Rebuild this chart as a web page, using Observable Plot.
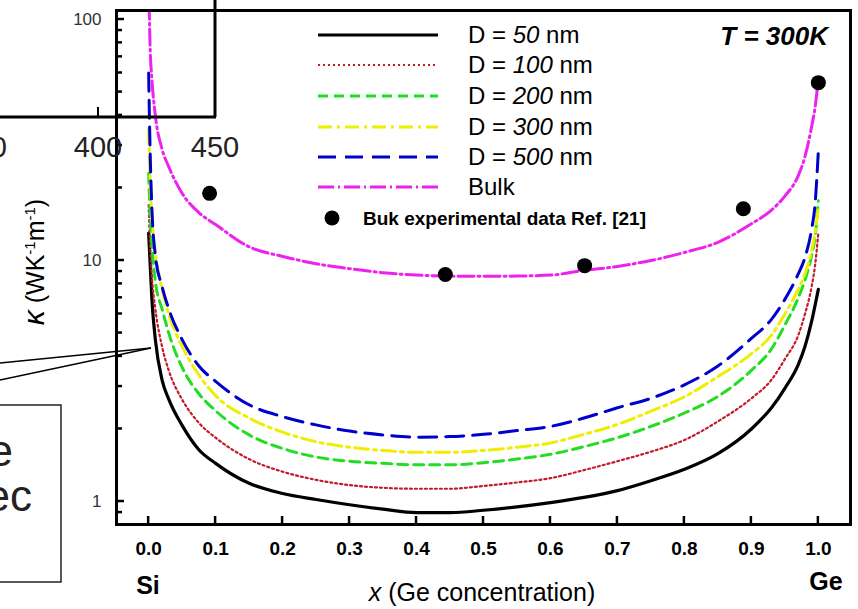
<!DOCTYPE html>
<html><head><meta charset="utf-8">
<script src="https://cdn.jsdelivr.net/npm/d3@7"></script>
<script src="https://cdn.jsdelivr.net/npm/@observablehq/plot@0.6"></script>
<style>body{margin:0;background:#fff} svg{display:block}</style>
</head><body><div id="chart"></div>
<script>
// Ge concentration grid
const xGrid = [0, 0.002, 0.005, 0.01, 0.02, 0.03, 0.05, 0.075, 0.1, 0.15, 0.2, 0.25, 0.3, 0.35, 0.4, 0.45, 0.5, 0.55, 0.6, 0.65, 0.7, 0.75, 0.8, 0.85, 0.9, 0.93, 0.95, 0.97, 0.98, 0.99, 0.995, 1.0];
// thermal conductivity (W/K/m)
const kD50  = [13, 10, 6.8, 4.7, 3.2, 2.66, 2.07, 1.64, 1.44, 1.19, 1.08, 1.02, 0.97, 0.93, 0.90, 0.90, 0.92, 0.95, 0.99, 1.04, 1.11, 1.22, 1.36, 1.58, 2.0, 2.45, 2.95, 3.7, 4.4, 5.6, 6.5, 7.6];
const kD100 = [17, 12, 8.5, 6.3, 4.4, 3.5, 2.65, 2.12, 1.84, 1.5, 1.33, 1.23, 1.17, 1.14, 1.13, 1.13, 1.16, 1.2, 1.25, 1.35, 1.47, 1.61, 1.8, 2.15, 2.68, 3.2, 3.9, 4.9, 6.0, 7.8, 9.5, 13];
const kD200 = [23, 16, 11.5, 8.2, 6.3, 5.0, 3.6, 2.8, 2.38, 1.89, 1.66, 1.53, 1.47, 1.44, 1.42, 1.42, 1.45, 1.5, 1.57, 1.69, 1.84, 2.05, 2.33, 2.73, 3.5, 4.3, 5.4, 7.0, 8.3, 10.5, 12.5, 17.7];
const kD300 = [35, 22, 15, 10.8, 7.6, 6.0, 4.4, 3.35, 2.75, 2.22, 1.94, 1.77, 1.68, 1.63, 1.6, 1.6, 1.63, 1.68, 1.75, 1.9, 2.09, 2.37, 2.72, 3.3, 4.1, 4.9, 6.0, 7.6, 8.8, 11, 13, 16.6];
const kD500 = [60, 30, 16, 10.5, 7.8, 6.3, 4.7, 3.65, 3.15, 2.52, 2.25, 2.08, 1.96, 1.89, 1.85, 1.86, 1.9, 1.97, 2.05, 2.22, 2.45, 2.68, 3.05, 3.65, 4.75, 5.7, 6.9, 8.8, 10.3, 13.5, 17, 28.5];
const kBulk = [150, 80, 56, 40, 29, 24.5, 19, 15.8, 14.1, 11.4, 10.4, 9.7, 9.25, 8.9, 8.7, 8.62, 8.6, 8.62, 8.7, 9.1, 9.45, 10.0, 10.8, 11.9, 14.2, 16.2, 18.5, 22.5, 27, 36, 43, 57];
// experimental bulk data
const expX = [0.091, 0.443, 0.651, 0.888, 1.0];
const expK = [19.0, 8.75, 9.52, 16.4, 54.7];
// labels & ticks
const seriesNames = ["D = 50 nm", "D = 100 nm", "D = 200 nm", "D = 300 nm", "D = 500 nm", "Bulk"];
const seriesNums = ["50", "100", "200", "300", "500", null];
const expLabel = "Buk experimental data Ref. [21]";
const xTicks = [0, 0.1, 0.2, 0.3, 0.4, 0.5, 0.6, 0.7, 0.8, 0.9, 1.0];
const yTicks = [1, 10, 100];
const yMinor = [0.9, 2, 3, 4, 5, 6, 7, 8, 9, 20, 30, 40, 50, 60, 70, 80, 90];
const insetTickLabels = ["0", "400", "450"];
const calloutWords = ["e", "ec"];

const seriesValues = [kD50, kD100, kD200, kD300, kD500, kBulk];
const styles = [
  {color: "#000000", dash: null, width: 3.2},
  {color: "#c01c2a", dash: "2,3", width: 2.2},
  {color: "#22dd22", dash: "10,6", width: 3},
  {color: "#eeee00", dash: "14,5,3,5", width: 3},
  {color: "#0000cc", dash: "18,9", width: 3},
  {color: "#ee22ee", dash: "16,4,2,4", width: 3}
];
const exp = expX.map((x, i) => ({x, k: expK[i]}));
const FONT = "'Liberation Sans', Arial, sans-serif";

const plot = Plot.plot({
  width: 858, height: 609,
  marginLeft: 116, marginRight: 8, marginTop: 10, marginBottom: 85,
  x: {domain: [-0.048, 1.048]},
  y: {type: "log", domain: [0.803, 109]},
  style: {fontFamily: FONT, color: "#000", background: "#fff", overflow: "visible"},
  marks: [
    ...seriesValues.map((vals, si) => Plot.line(xGrid.map((x, i) => ({x, k: vals[i]})), {
      x: "x", y: "k", stroke: styles[si].color, strokeWidth: styles[si].width,
      strokeDasharray: styles[si].dash, curve: "monotone-x", clip: "frame"
    })),
    Plot.dot(exp, {x: "x", y: "k", r: 7.5, fill: "#000"}),
    Plot.frame({strokeWidth: 3}),
    Plot.axisX({ticks: xTicks, tickFormat: d3.format(".1f"), tickSize: 0, tickPadding: 17, fontSize: 19, fontWeight: "bold", label: null}),
    Plot.axisY({ticks: yTicks, tickFormat: d => String(d), tickSize: 0, tickPadding: 15, fontSize: 17, fill: "#333", label: null})
  ]
});
document.getElementById("chart").appendChild(plot);

const svg = d3.select(plot);
const sx = plot.scale("x"), sy = plot.scale("y");
const L = 116, B = 524;
const g = svg.append("g").attr("stroke", "#000");
yTicks.forEach(v => g.append("line").attr("x1", L).attr("x2", L + 8).attr("y1", sy.apply(v)).attr("y2", sy.apply(v)).attr("stroke-width", 2.5));
yMinor.forEach(v => g.append("line").attr("x1", L).attr("x2", L + 6).attr("y1", sy.apply(v)).attr("y2", sy.apply(v)).attr("stroke-width", 2.5));
xTicks.forEach(v => g.append("line").attr("x1", sx.apply(v)).attr("x2", sx.apply(v)).attr("y1", B).attr("y2", B - 8).attr("stroke-width", 2.5));

// Legend
const leg = svg.append("g").attr("font-family", FONT).attr("text-anchor", "start");
const rowY = [35, 65, 96, 127, 157, 187];
seriesNames.forEach((name, i) => {
  const s = styles[i];
  leg.append("line").attr("x1", 318).attr("x2", 438).attr("y1", rowY[i]).attr("y2", rowY[i])
    .attr("stroke", s.color).attr("stroke-width", s.width).attr("stroke-dasharray", s.dash);
  const t = leg.append("text").attr("x", 468).attr("y", rowY[i] + 8).attr("font-size", 24).attr("text-anchor", "start");
  if (seriesNums[i]) {
    t.append("tspan").text("D = ");
    t.append("tspan").attr("font-style", "italic").text(seriesNums[i]);
    t.append("tspan").text(" nm");
  } else t.text(name);
});
leg.append("circle").attr("cx", 332).attr("cy", 218).attr("r", 7.5).attr("fill", "#000");
leg.append("text").attr("x", 363).attr("y", 225).attr("font-size", 19).attr("font-weight", "bold").attr("text-anchor", "start").text(expLabel);

// T = 300K
svg.append("text").attr("x", 828).attr("y", 45).attr("text-anchor", "end").attr("font-family", FONT)
  .attr("font-size", 26).attr("font-weight", "bold").attr("font-style", "italic").text("T = 300K");

// axis titles
const at = svg.append("g").attr("font-family", FONT);
at.append("text").attr("x", 148).attr("y", 594).attr("text-anchor", "middle").attr("font-size", 25).attr("font-weight", "bold").text("Si");
at.append("text").attr("x", 826).attr("y", 590).attr("text-anchor", "middle").attr("font-size", 25).attr("font-weight", "bold").text("Ge");
const xl = at.append("text").attr("x", 482).attr("y", 601).attr("text-anchor", "middle").attr("font-size", 25);
xl.append("tspan").attr("font-style", "italic").text("x");
xl.append("tspan").text(" (Ge concentration)");
const yl = at.append("text").attr("transform", "translate(44,262) rotate(-90)").attr("text-anchor", "middle").attr("font-size", 25);
yl.append("tspan").attr("font-style", "italic").attr("font-size", 30).text("κ");
yl.append("tspan").text(" (WK");
yl.append("tspan").attr("dy", -9).attr("font-size", 15).text("-1");
yl.append("tspan").attr("dy", 9).text("m");
yl.append("tspan").attr("dy", -9).attr("font-size", 15).text("-1");
yl.append("tspan").attr("dy", 9).text(")");

// leftover pieces of a neighbouring figure
const art = svg.append("g").attr("font-family", FONT);
art.append("line").attr("x1", 0).attr("x2", 216).attr("y1", 117).attr("y2", 117).attr("stroke", "#000").attr("stroke-width", 3);
art.append("line").attr("x1", 215).attr("x2", 215).attr("y1", 0).attr("y2", 117).attr("stroke", "#000").attr("stroke-width", 3);
art.append("line").attr("x1", 98).attr("x2", 98).attr("y1", 107).attr("y2", 117).attr("stroke", "#000").attr("stroke-width", 2);
art.append("text").attr("x", 7).attr("y", 157).attr("text-anchor", "end").attr("font-size", 29).attr("fill", "#222").text(insetTickLabels[0]);
art.append("text").attr("x", 98).attr("y", 157).attr("text-anchor", "middle").attr("font-size", 29).attr("fill", "#222").text(insetTickLabels[1]);
art.append("text").attr("x", 215).attr("y", 157).attr("text-anchor", "middle").attr("font-size", 29).attr("fill", "#222").text(insetTickLabels[2]);
art.append("line").attr("x1", 0).attr("y1", 363).attr("x2", 151).attr("y2", 348).attr("stroke", "#000").attr("stroke-width", 1.3);
art.append("line").attr("x1", 0).attr("y1", 380).attr("x2", 151).attr("y2", 348).attr("stroke", "#000").attr("stroke-width", 1.3);
art.append("rect").attr("x", -5).attr("y", 405).attr("width", 66).attr("height", 177).attr("fill", "#fff").attr("stroke", "#000").attr("stroke-width", 1.3);
art.append("text").attr("x", 13).attr("y", 466).attr("text-anchor", "end").attr("font-size", 44).attr("fill", "#222").text(calloutWords[0]);
art.append("text").attr("x", 32).attr("y", 511).attr("text-anchor", "end").attr("font-size", 44).attr("fill", "#222").text(calloutWords[1]);
</script>
</body></html>
